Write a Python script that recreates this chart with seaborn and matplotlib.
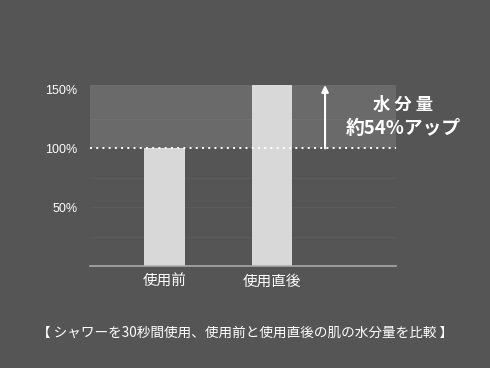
import numpy as np
import pandas as pd
import matplotlib.pyplot as plt
import seaborn as sns

# chart data
labels = ["使用前", "使用直後"]
values = [100, 154]
y_ticks = [50, 100, 150]
y_tick_labels = ["50%", "100%", "150%"]
grid_levels = [25, 50, 75, 125]
note_title = "水 分 量"
note_sub = "約54%アップ"
caption = "【 シャワーを30秒間使用、使用前と使用直後の肌の水分量を比較 】"

bg = "#555555"

sns.set_style("white")
plt.rcParams['font.family'] = ['Noto Sans CJK JP', 'DejaVu Sans']

df = pd.DataFrame({"label": labels, "value": values})

fig = plt.figure(figsize=(4.9, 3.68), dpi=100, facecolor=bg)
ax = fig.add_axes([90 / 490, 1 - 266 / 368, 306 / 490, 181 / 368])
ax.set_facecolor(bg)

# shaded increase band
ax.axhspan(values[0], values[1], color="#6a6a6a", zorder=0, lw=0)
for g in grid_levels:
    c = "#707070" if g > values[0] else "#5b5b5b"
    ax.axhline(g, color=c, lw=0.8, zorder=0.5)

sns.barplot(data=df, x="label", y="value", color="#d8d8d8", width=0.38,
            saturation=1, linewidth=0, ax=ax, zorder=2)

ax.axhline(values[0], color="white", lw=1.4, ls=(0, (1, 2.2)), zorder=3)

ax.set_xlim(-0.693, 2.153)
ax.set_ylim(0, values[1])

# arrow
ax.annotate("", xy=(1.493, values[1]), xytext=(1.493, values[0]),
            arrowprops=dict(arrowstyle="-|>", color="white", lw=1.5,
                            mutation_scale=10, shrinkA=0, shrinkB=0), zorder=4)
ax.text(2.22, 137, note_title, color="white", fontsize=12.5, fontweight="bold",
        ha="center", va="center", clip_on=False)
ax.text(2.22, 117, note_sub, color="white", fontsize=13.5, fontweight="bold",
        ha="center", va="center", clip_on=False)

for s in ["top", "right", "left"]:
    ax.spines[s].set_visible(False)
ax.spines["bottom"].set_color("#aaaaaa")
ax.spines["bottom"].set_linewidth(1.2)

ax.set_yticks(y_ticks)
ax.set_yticklabels(y_tick_labels, family="Liberation Sans")
ax.tick_params(axis="y", length=0, colors="white", labelsize=9, pad=9)
ax.tick_params(axis="x", length=0, colors="white", labelsize=10.5, pad=6)
ax.set_xlabel("")
ax.set_ylabel("")

fig.text(0.5, 1 - 333 / 368, caption, color="white", fontsize=9.8,
         ha="center", va="center")

fig.savefig("out.png", dpi=100, facecolor=bg)
